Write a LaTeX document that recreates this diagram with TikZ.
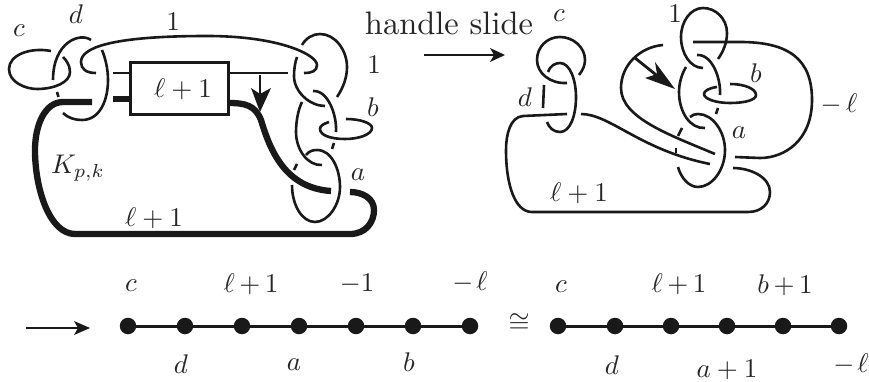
\documentclass[tikz,border=0pt]{standalone}
\usetikzlibrary{calc}
\tikzset{
  kn/.style={line width=2.6pt,line cap=butt,line join=round,black!90},
  kt/.style={line width=6.3pt,line cap=butt,line join=round,black!90},
  lab/.style={inner sep=0pt,text=black!85,scale=2.7},
  txt/.style={inner sep=0pt,text=black!85,scale=3.25},
  dotn/.style={circle,fill=black!90,draw=none,minimum size=16.5pt,inner sep=0pt},
  ch/.style={line width=3pt,black!90},
  arr/.style={line width=2.8pt,black!90}
}
\newcommand{\headpoly}[4]{\fill[black!90] #1 -- #2 -- #3 -- #4 -- cycle;}
\begin{document}
\begin{tikzpicture}[x=1pt,y=-1pt]
\useasboundingbox (0,0) rectangle (869,382);
% ---------- left figure
\node[draw=black!90,line width=3pt,minimum width=98pt,minimum height=52pt,inner sep=0pt] (box) at (179,89) {};
\node[lab] (boxt) at (183,89) {$\ell+1$};
\coordinate (tl) at (113,73); \coordinate (tr) at (288,73);
\coordinate (bl) at (113,99);
\draw[kn] (tl) -- (tl -| box.west);
\draw[kt] (bl) -- (bl -| box.west);
\draw[kn] (tr -| box.east) -- (tr);
% c
\draw[kn] (51,51) .. controls (30,47) and (9,55) .. (9,69) .. controls (9,82) and (25,89) .. (37,89) .. controls (55,89) and (70,82) .. (70,72) .. controls (70,65) and (66,60) .. (63,57);
% d
\draw[kn] (91,40) .. controls (80,32) and (53,42) .. (53,80);
\draw[kn] (57,92) -- (58.5,97);
\draw[kn] (63,113) .. controls (68,118) and (75,120) .. (82,120) .. controls (100,120) and (108,100) .. (108,80) .. controls (108,70) and (106,60) .. (102,50);
% framing 1 band
\draw[kn] (96,73) .. controls (86,73) and (81,69) .. (81,62) .. controls (81,48) and (110,36) .. (207,36) .. controls (280,36) and (317,55) .. (317,65) .. controls (317,71) and (312,73) .. (304,73);
% thick strand
\draw[kt] (92,102) -- (63,102) .. controls (45,102) and (35,125) .. (35,150) .. controls (35,190) and (50,234) .. (75,234) -- (350,234) .. controls (366,234) and (374,222) .. (374,210) .. controls (374,198) and (362,192) .. (350,192);
\draw[kt] (228,103) .. controls (245,103) and (255,105) .. (261,120) .. controls (270,150) and (285,188) .. (331,191);
% slide arrow
\coordinate (ah) at (260,112);
\draw[arr] (260,75) -- (260,96);
\headpoly{(ah)}{(251,88)}{(260,94)}{(271,88)}
% right loops
\draw[kn] (302,45) .. controls (306,38) and (313,34) .. (320,34) .. controls (335,34) and (347,50) .. (347,67) .. controls (347,78) and (343,88) .. (337,97);
\draw[kn] (297,57) .. controls (295,62) and (294,70) .. (294,76) .. controls (294,92) and (310,106) .. (325,106);
\draw[kn] (313,91) .. controls (328,90) and (337,115) .. (336,132);
\draw[kn] (334,143) -- (332,149);
\draw[kn] (302,102) .. controls (298,110) and (296,122) .. (296,132) .. controls (296,150) and (308,166) .. (322,165);
\draw[kn] (297,164) -- (294,170);
\draw[kn] (306,155) .. controls (309,151) and (313,150) .. (317,150) .. controls (332,150) and (340,170) .. (340,187) .. controls (340,205) and (328,222) .. (315,222) .. controls (302,222) and (292,205) .. (292,185);
\draw[kn] (329,122) .. controls (323,124) and (320,126) .. (320,129) .. controls (320,135) and (330,139) .. (345,139) .. controls (360,139) and (372,134) .. (372,128) .. controls (372,123) and (360,119) .. (346,119);
% labels left
\node[lab] (Lc) at (19,31) {$c$};
\node[lab] (Ld) at (76,14) {$d$};
\node[lab] (L1a) at (173,22) {$1$};
\node[lab] (L1b) at (374,65) {$1$};
\node[lab] (Lb) at (373,107) {$b$};
\node[lab] (La) at (358,175) {$a$};
\node[lab] (LK) at (78,168) {$K_{p,k}$};
\node[lab] (Ll) at (154,218) {$\ell+1$};
% ---------- handle slide
\node[txt] (hs) at (449,23) {handle slide};
\coordinate (a0) at (424,55); \coordinate (a1) at (505,55);
\draw[arr] (a0) -- (498,55);
\headpoly{(a1)}{(490,48)}{(494,55)}{(490,62)}
% ---------- right figure
\draw[kn] (579,75) .. controls (583,70) and (585,65) .. (585,60) .. controls (585,47) and (573,37) .. (560,37) .. controls (547,37) and (537,47) .. (537,60) .. controls (537,73) and (550,84) .. (567,83);
\draw[kn] (548,72) .. controls (550,66) and (555,63) .. (560,63) .. controls (570,63) and (576,80) .. (576,97) .. controls (576,116) and (570,132) .. (560,132) .. controls (554,132) and (549,128) .. (547,122);
\draw[kn] (544,85) -- (543,108);
\draw[kn] (567,114) -- (523,116) .. controls (510,117) and (506,135) .. (506,150) .. controls (506,185) and (515,212) .. (532,212) -- (748,212) .. controls (762,212) and (770,203) .. (770,192) .. controls (770,177) and (750,168) .. (733,168);
\draw[kn] (581,114) .. controls (610,114) and (640,150) .. (710,164);
\draw[kn] (663,45) .. controls (640,47) and (621,65) .. (621,88) .. controls (621,118) and (670,135) .. (715,154);
% slide arrow right
\coordinate (rtip) at (675,89);
\draw[arr] (635,58) -- (660,78);
\headpoly{(rtip)}{(645,78)}{(657,74)}{(655,62)}
% right loops
\draw[kn] (718,59) .. controls (723,52) and (727,43) .. (727,33) .. controls (727,19) and (716,8) .. (703,8) .. controls (691,8) and (681,21) .. (681,37) .. controls (681,53) and (690,68) .. (703,68);
\draw[kn] (693,42) -- (740,42) .. controls (790,42) and (812,60) .. (812,100) .. controls (812,140) and (785,158) .. (760,158) -- (735,157);
\draw[kn] (697,55) .. controls (712,54) and (721,78) .. (720,95);
\draw[kn] (718,108) -- (716,114);
\draw[kn] (686,67) .. controls (681,75) and (679,85) .. (679,92) .. controls (679,112) and (690,129) .. (705,128);
\draw[kn] (690,117) .. controls (692,115) and (695,114) .. (698,114) .. controls (713,114) and (725,132) .. (725,150) .. controls (725,170) and (712,187) .. (698,187) .. controls (689,187) and (681,178) .. (678,167);
\draw[kn] (682,128) -- (678,136);
\draw[kn] (676,148) -- (676,153);
\draw[kn] (717,87) .. controls (709,88) and (704,91) .. (704,94) .. controls (704,99) and (716,103) .. (730,103) .. controls (745,103) and (756,100) .. (756,95) .. controls (756,89) and (745,84) .. (730,84);
% labels right
\node[lab] (Rc) at (559,16) {$c$};
\node[lab] (Rd) at (525,97) {$d$};
\node[lab] (R1) at (675,14) {$1$};
\node[lab] (Rb) at (756,73) {$b$};
\node[lab] (Ra) at (739,133) {$a$};
\node[lab] (Rm) at (839,104) {$-\,\ell$};
\node[lab] (Rl) at (579,193) {$\ell+1$};
% ---------- bottom arrow
\coordinate (b0) at (26,328); \coordinate (b1) at (90,328);
\draw[arr] (b0) -- (84,328);
\headpoly{(b1)}{(74,321)}{(78,328)}{(74,335)}
% ---------- chain 1
\foreach \n/\x in {1/128,2/185,3/242,4/299,5/356,6/413,7/470}{\node[dotn] (p\n) at (\x,326) {};}
\draw[ch] (p1) -- (p2) -- (p3) -- (p4) -- (p5) -- (p6) -- (p7);
\node[lab] (t1) at (131,286) {$c$};
\node[lab] (t2) at (251,284) {$\ell\,{+}\,1$};
\node[lab] (t3) at (357,284) {$-1$};
\node[lab] (t4) at (470,282) {$-\mkern2mu\ell$};
\node[lab] (t5) at (181,364) {$d$};
\node[lab] (t6) at (294,365) {$a$};
\node[lab] (t7) at (409,362) {$b$};
\node[lab] (cong) at (519,323) {$\cong$};
% ---------- chain 2
\foreach \n/\x in {1/558,2/615,3/671,4/727,5/783,6/839}{\node[dotn] (q\n) at (\x,326) {};}
\draw[ch] (q1) -- (q2) -- (q3) -- (q4) -- (q5) -- (q6);
\node[lab] (u1) at (561,287) {$c$};
\node[lab] (u2) at (679,284) {$\ell\,{+}\,1$};
\node[lab] (u3) at (785,285) {$b\,{+}\,1$};
\node[lab] (u4) at (612,365) {$d$};
\node[lab] (u5) at (727,370) {$a+1$};
\node[lab] (u6) at (851,364) {$-\mkern2mu\ell$};
\end{tikzpicture}
\end{document}
